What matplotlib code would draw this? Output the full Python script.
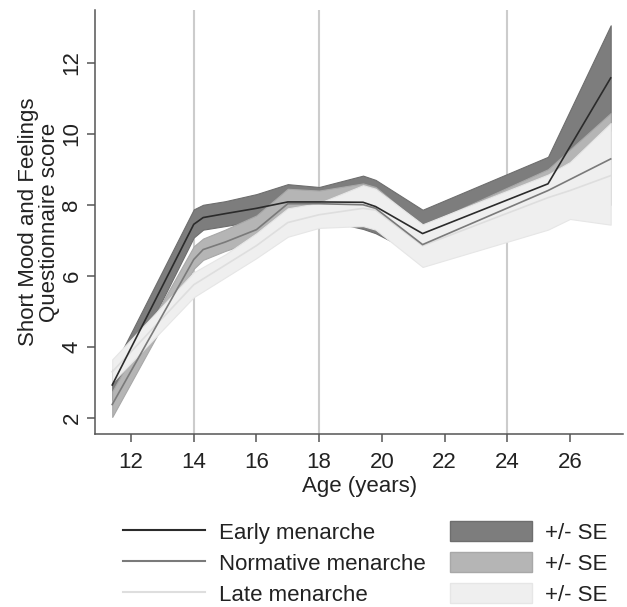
import matplotlib
matplotlib.use('Agg')
import matplotlib.pyplot as plt
from matplotlib.lines import Line2D
from matplotlib.patches import Patch

plt.rcParams['font.family'] = ['Liberation Sans', 'DejaVu Sans']

# early menarche: mean and +/- SE
early_age = [11.4, 14.0, 14.3, 15.0, 16.0, 17.0, 18.0, 19.4, 19.8, 21.3, 25.3, 27.3]
early_mean = [2.93, 7.45, 7.64, 7.75, 7.90, 8.08, 8.08, 8.07, 7.95, 7.19, 8.59, 11.57]
early_lo = [2.50, 7.08, 7.30, 7.40, 7.55, 7.60, 7.60, 7.32, 7.20, 6.52, 7.83, 10.09]
early_hi = [3.35, 7.87, 8.00, 8.10, 8.30, 8.58, 8.50, 8.82, 8.70, 7.86, 9.35, 13.05]

# normative menarche
norm_age = [11.4, 14.0, 14.3, 15.0, 16.0, 17.0, 18.0, 19.4, 19.8, 21.3, 25.3, 27.3]
norm_mean = [2.38, 6.46, 6.74, 6.95, 7.30, 8.03, 8.03, 8.00, 7.90, 6.88, 8.40, 9.29]
norm_lo = [2.03, 6.20, 6.45, 6.70, 7.00, 7.65, 7.60, 7.45, 7.35, 6.35, 7.70, 8.00]
norm_hi = [2.75, 6.83, 7.05, 7.30, 7.70, 8.45, 8.40, 8.60, 8.50, 7.40, 9.00, 10.58]

# late menarche
late_age = [11.4, 14.0, 15.0, 16.0, 17.0, 18.0, 19.4, 19.8, 21.3, 25.3, 26.0, 27.3]
late_mean = [3.30, 5.75, 6.30, 6.85, 7.50, 7.72, 7.90, 7.85, 6.85, 8.20, 8.40, 8.82]
late_lo = [3.00, 5.40, 5.95, 6.50, 7.10, 7.35, 7.40, 7.30, 6.25, 7.30, 7.60, 7.44]
late_hi = [3.65, 6.10, 6.60, 7.20, 7.90, 8.05, 8.55, 8.45, 7.45, 8.85, 9.20, 10.30]

ref_ages = [14, 18, 24]
x_ticks = [12, 14, 16, 18, 20, 22, 24, 26]
y_ticks = [2, 4, 6, 8, 10, 12]

line_colors = ['#2b2b2b', '#7a7a7a', '#dedede']
band_colors = ['#7d7d7d', '#b5b5b5', '#efefef']
band_edges = ['#6e6e6e', '#a8a8a8', '#e6e6e6']

fig = plt.figure(figsize=(6.27, 6.07), dpi=100)
ax = fig.add_axes([0.1515, 0.285, 0.8425, 0.6985])

for a in ref_ages:
    ax.axvline(a, color='#cccccc', lw=1.5, zorder=0)

groups = [
    (early_age, early_mean, early_lo, early_hi),
    (norm_age, norm_mean, norm_lo, norm_hi),
    (late_age, late_mean, late_lo, late_hi),
]
for i, (age, mean, lo, hi) in enumerate(groups):
    ax.fill_between(age, lo, hi, facecolor=band_colors[i], edgecolor=band_edges[i],
                    lw=0.8, zorder=1 + i)
for i, (age, mean, lo, hi) in enumerate(groups):
    ax.plot(age, mean, color=line_colors[i], lw=1.2, zorder=5 - i)

ax.set_xlim(10.85, 27.7)
ax.set_ylim(1.55, 13.48)
ax.set_xticks(x_ticks)
ax.set_yticks(y_ticks)
for s in ['top', 'right']:
    ax.spines[s].set_visible(False)
for s in ['left', 'bottom']:
    ax.spines[s].set_color('#555555')
    ax.spines[s].set_linewidth(1.1)
ax.tick_params(axis='both', colors='#555555', labelcolor='#222222', labelsize=16,
               length=6, width=1.1, pad=3)
ax.tick_params(axis='x', pad=7)
plt.setp(ax.get_yticklabels(), rotation=90, va='center')
ax.set_xlabel('Age (years)', fontsize=16, color='#222222', labelpad=2)
ax.set_ylabel('Short Mood and Feelings\nQuestionnaire score', fontsize=16,
              color='#222222', labelpad=1, linespacing=1.0)

labels = ['Early menarche', 'Normative menarche', 'Late menarche',
          '+/- SE', '+/- SE', '+/- SE']
handles = [Line2D([], [], color=c, lw=1.5) for c in line_colors]
handles += [Patch(facecolor=band_colors[i], edgecolor=band_edges[i], lw=1.0)
            for i in range(3)]
fig.legend(handles, labels, ncol=2, loc='upper left', bbox_to_anchor=(0.1786, 0.16),
           frameon=False, fontsize=16, borderpad=0, handlelength=3.7,
           handleheight=1.0, handletextpad=0.6, columnspacing=1.1, labelspacing=0.38,
           labelcolor='#222222')

fig.savefig('out.png', dpi=100)
